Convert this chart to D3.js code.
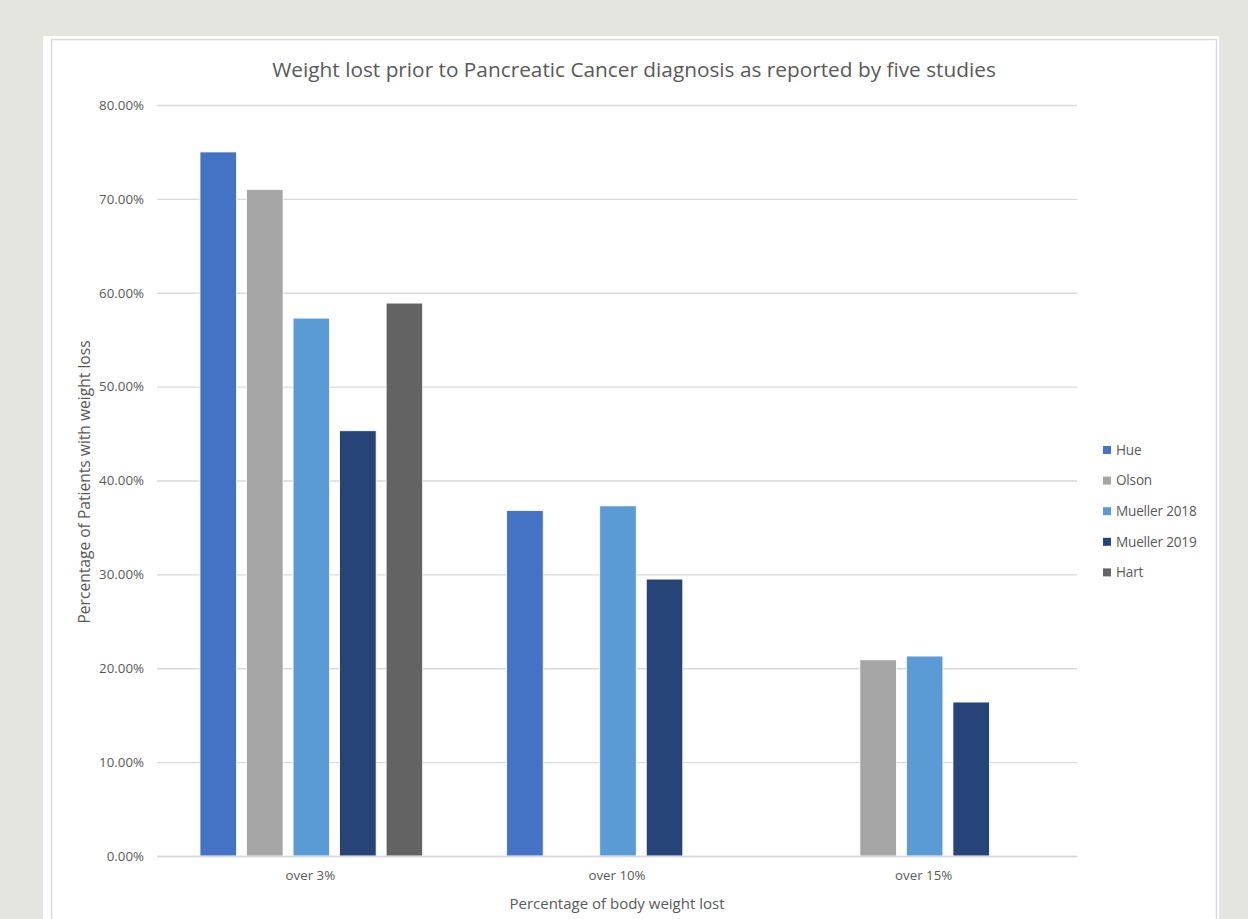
<!DOCTYPE html>
<html><head><meta charset="utf-8">
<script src="https://cdn.jsdelivr.net/npm/d3@7"></script>
<style>
html,body{margin:0;padding:0;background:#e5e5e0;}
svg{display:block;font-family:"Open Sans",sans-serif;}
</style></head>
<body>
<svg id="chart" width="1248" height="919"></svg>
<script>
const categories = ["over 3%", "over 10%", "over 15%"];
const seriesNames = ["Hue", "Olson", "Mueller 2018", "Mueller 2019", "Hart"];
const hue = [0.75, 0.368, null];
const olson = [0.71, null, 0.209];
const mueller2018 = [0.573, 0.373, 0.213];
const mueller2019 = [0.453, 0.295, 0.164];
const hart = [0.589, null, null];
const yTicks = [0, 0.1, 0.2, 0.3, 0.4, 0.5, 0.6, 0.7, 0.8];
const colors = ["#4472C4", "#A5A5A5", "#5B9BD5", "#264478", "#636363"];
const seriesValues = [hue, olson, mueller2018, mueller2019, hart];

(function(){
const svg = d3.select("#chart");
// panel
svg.append("rect").attr("x",43).attr("y",36).attr("width",1176).attr("height",900).attr("fill","#ffffff");
svg.append("rect").attr("x",51.5).attr("y",39.5).attr("width",1165).attr("height",900)
  .attr("fill","none").attr("stroke","#d9d9d9").attr("stroke-width",1.5);

const pL = 157, pR = 1077, pT = 105, pB = 856;
const x0 = d3.scaleBand().domain(categories).range([pL, pR]).paddingInner(0).paddingOuter(0);
const x1 = d3.scaleBand().domain(seriesNames).range([43, x0.bandwidth()-41]).paddingInner(0.215).paddingOuter(0);
const y = d3.scaleLinear().domain([0, 0.8]).range([pB, pT]);
const color = d3.scaleOrdinal().domain(seriesNames).range(colors);

// gridlines
const yAxis = d3.axisLeft(y).tickValues(yTicks).tickFormat(d3.format(".2%")).tickSize(-(pR-pL)).tickPadding(13);
const gy = svg.append("g").attr("transform",`translate(${pL},0)`).call(yAxis);
gy.select(".domain").remove();
gy.selectAll(".tick line").attr("stroke","#d9d9d9").attr("stroke-width",1.3);
gy.selectAll(".tick text").attr("fill","#595959").attr("font-size","13.3px").attr("font-family","'Open Sans',sans-serif");

// bars
const data = [];
categories.forEach((c,ci)=>seriesNames.forEach((s,si)=>{
  const v = seriesValues[si][ci];
  if (v !== null) data.push({cat:c, series:s, value:v});
}));
svg.append("g").selectAll("rect").data(data).join("rect")
  .attr("x", d => x0(d.cat) + x1(d.series))
  .attr("width", x1.bandwidth())
  .attr("y", d => y(d.value))
  .attr("height", d => y(0) - y(d.value))
  .attr("fill", d => color(d.series))
  .attr("stroke","#ffffff").attr("stroke-width",0.8);

// x axis
const xAxis = d3.axisBottom(x0).tickSize(0).tickPadding(15);
const gx = svg.append("g").attr("transform",`translate(0,${pB})`).call(xAxis);
gx.select(".domain").attr("stroke","#d9d9d9").attr("stroke-width",1.3);
gx.selectAll(".tick text").attr("fill","#595959").attr("font-size","13.3px").attr("font-family","'Open Sans',sans-serif");

// titles
svg.append("text").attr("x",634).attr("y",77).attr("text-anchor","middle")
  .attr("fill","#595959").attr("font-size","20.8px")
  .text("Weight lost prior to Pancreatic Cancer diagnosis as reported by five studies");
svg.append("text").attr("x",617).attr("y",909).attr("text-anchor","middle")
  .attr("fill","#595959").attr("font-size","15px").text("Percentage of body weight lost");
svg.append("text").attr("transform","translate(90,482) rotate(-90)").attr("text-anchor","middle")
  .attr("fill","#595959").attr("font-size","15.6px").text("Percentage of Patients with weight loss");

// legend
const lg = svg.append("g").selectAll("g").data(seriesNames).join("g")
  .attr("transform",(d,i)=>`translate(1103,${450 + i*30.6})`);
lg.append("rect").attr("x",0).attr("y",-4).attr("width",8).attr("height",8).attr("fill",d=>color(d));
lg.append("text").attr("x",13).attr("y",0).attr("dy","0.35em").attr("fill","#595959").attr("font-size","13.6px").attr("letter-spacing","-0.2px").text(d=>d);
})();
</script>
</body></html>
